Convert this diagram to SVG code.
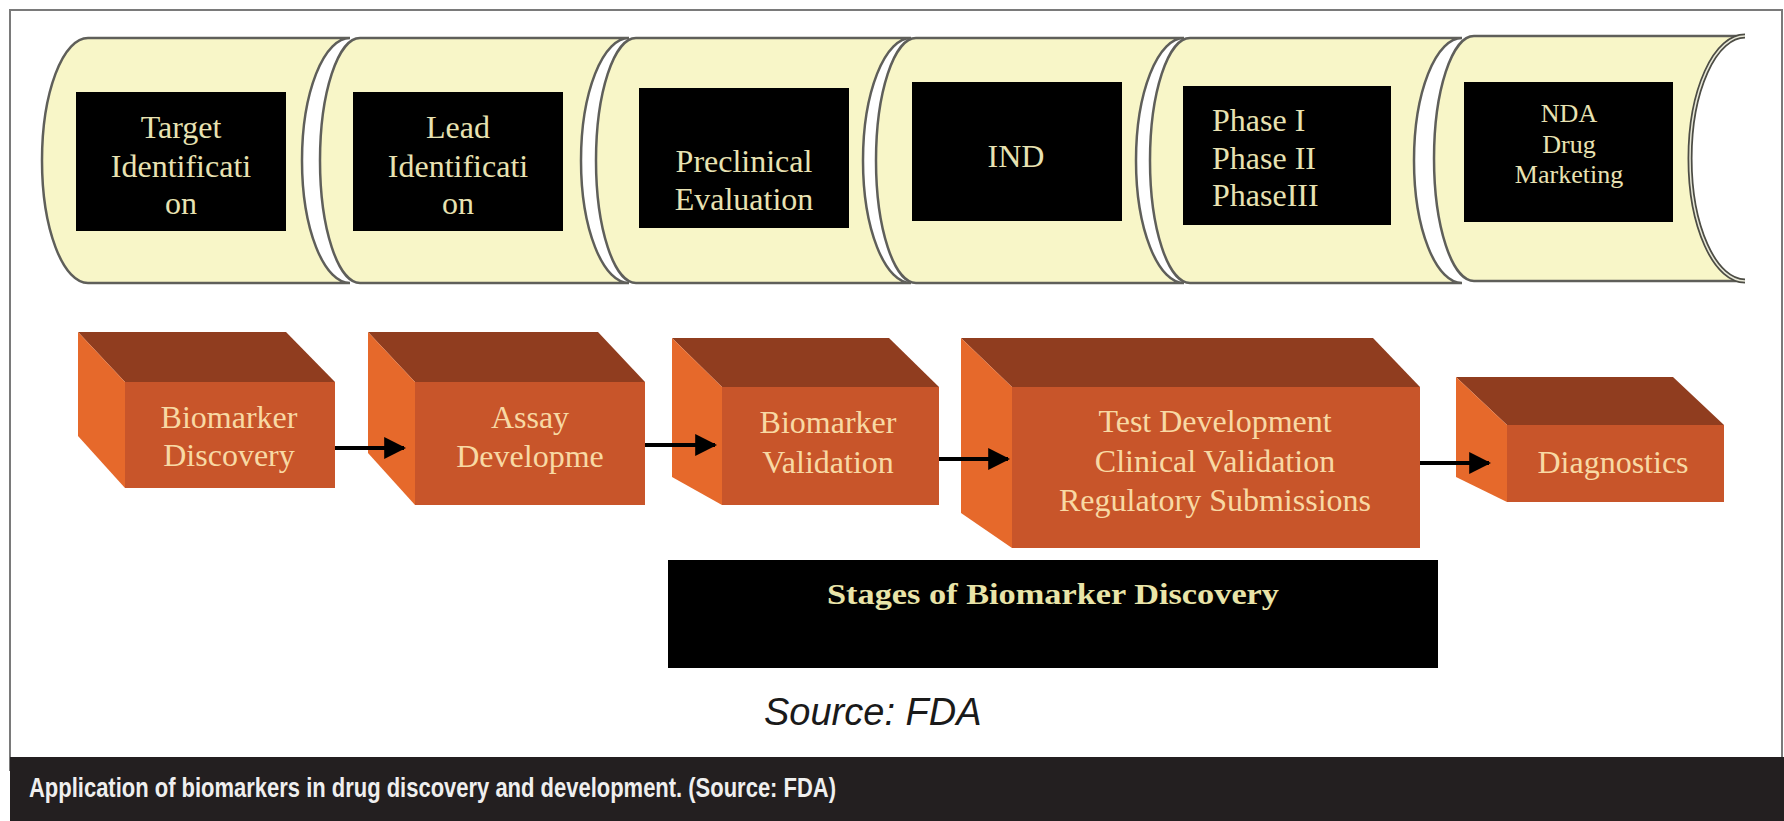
<svg xmlns="http://www.w3.org/2000/svg" width="1784" height="821" viewBox="0 0 1784 821">
<style>
.scroll{fill:#f8f6c8;stroke:#5f5f5a;stroke-width:2.5}
.blk{fill:#000}
.tt{font-family:"Liberation Serif",serif;font-size:32px;fill:#e8e2b2;text-anchor:middle}
.tl{font-family:"Liberation Serif",serif;font-size:32px;fill:#e8e2b2;text-anchor:start}
.ts{font-family:"Liberation Serif",serif;font-size:26px;fill:#e8e2b2;text-anchor:middle}
.bt{font-family:"Liberation Serif",serif;font-size:32px;fill:#f8d9a4;text-anchor:middle}
.top{fill:#903d1f}
.front{fill:#c8552a}
.side{fill:#e6692b}
.conn line{stroke:#000;stroke-width:4}
</style>
<defs>
<marker id="ah" viewBox="0 0 10 10" refX="9" refY="5" markerWidth="5.5" markerHeight="6" markerUnits="strokeWidth" orient="auto">
<path d="M0,0 L10,5 L0,10 Z" fill="#000"/>
</marker>
</defs>
<rect x="0" y="0" width="1784" height="821" fill="#fff"/>
<rect x="10" y="10" width="1772" height="760" fill="#fff" stroke="#7a7a7a" stroke-width="2"/>
<rect x="10" y="757" width="1774" height="64" fill="#231f20"/>
<text x="29" y="797" font-family="'Liberation Sans',Arial,sans-serif" font-size="28" font-weight="bold" fill="#efefef" textLength="807" lengthAdjust="spacingAndGlyphs">Application of biomarkers in drug discovery and development. (Source: FDA)</text>

<g id="n1">
<path class="scroll" d="M88,38 L350,38 A48 122.5 0 0 0 350,283 L88,283 A46 122.5 0 0 1 88,38 Z"/>
<rect class="blk" x="76" y="92" width="210" height="139"/>
<text class="tt" x="181" y="138">Target</text>
<text class="tt" x="181" y="177">Identificati</text>
<text class="tt" x="181" y="214">on</text>
</g>
<g id="n2">
<path class="scroll" d="M360,38 L629,38 A48 122.5 0 0 0 629,283 L360,283 A40 122.5 0 0 1 360,38 Z"/>
<rect class="blk" x="353" y="92" width="210" height="139"/>
<text class="tt" x="458" y="138">Lead</text>
<text class="tt" x="458" y="177">Identificati</text>
<text class="tt" x="458" y="214">on</text>
</g>
<g id="n3">
<path class="scroll" d="M636,38 L911,38 A48 122.5 0 0 0 911,283 L636,283 A40 122.5 0 0 1 636,38 Z"/>
<rect class="blk" x="639" y="88" width="210" height="140"/>
<text class="tt" x="744" y="172">Preclinical</text>
<text class="tt" x="744" y="210">Evaluation</text>
</g>
<g id="n4">
<path class="scroll" d="M916,38 L1184,38 A48 122.5 0 0 0 1184,283 L916,283 A40 122.5 0 0 1 916,38 Z"/>
<rect class="blk" x="912" y="82" width="210" height="139"/>
<text class="tt" x="1016" y="167">IND</text>
</g>
<g id="n5">
<path class="scroll" d="M1190,38 L1462,38 A48 122.5 0 0 0 1462,283 L1190,283 A40 122.5 0 0 1 1190,38 Z"/>
<rect class="blk" x="1183" y="86" width="208" height="139"/>
<text class="tl" x="1212" y="131">Phase I</text>
<text class="tl" x="1212" y="169">Phase II</text>
<text class="tl" x="1212" y="206">PhaseIII</text>
</g>
<g id="n6">
<path class="scroll" d="M1474,36 L1745,36 A55 122.5 0 0 0 1745,281 L1474,281 A40 122.5 0 0 1 1474,36 Z"/>
<path d="M1745,36 A55 122.5 0 0 0 1745,281" fill="none" stroke="#4d4d45" stroke-width="5"/>
<path d="M1745,36 A55 122.5 0 0 0 1745,281" fill="none" stroke="#e8e8d8" stroke-width="1.5"/>
<rect class="blk" x="1464" y="82" width="209" height="140"/>
<text class="ts" x="1569" y="122">NDA</text>
<text class="ts" x="1569" y="153">Drug</text>
<text class="ts" x="1569" y="183">Marketing</text>
</g>

<g id="b1">
<polygon class="top" points="78,332 286,332 335,382 125,382"/>
<polygon class="side" points="78,332 125,382 125,488 78,436"/>
<rect class="front" x="125" y="382" width="210" height="106"/>
<text class="bt" x="229" y="428">Biomarker</text>
<text class="bt" x="229" y="466">Discovery</text>
</g>
<g id="b2">
<polygon class="top" points="368,332 598,332 645,382 415,382"/>
<polygon class="side" points="368,332 415,382 415,505 368,453"/>
<rect class="front" x="415" y="382" width="230" height="123"/>
<text class="bt" x="530" y="428">Assay</text>
<text class="bt" x="530" y="467">Developme</text>
</g>
<g id="b3">
<polygon class="top" points="672,338 889,338 939,387 722,387"/>
<polygon class="side" points="672,338 722,387 722,505 672,477"/>
<rect class="front" x="722" y="387" width="217" height="118"/>
<text class="bt" x="828" y="433">Biomarker</text>
<text class="bt" x="828" y="473">Validation</text>
</g>
<g id="b4">
<polygon class="top" points="961,338 1373,338 1420,387 1012,387"/>
<polygon class="side" points="961,338 1012,387 1012,548 961,513"/>
<rect class="front" x="1012" y="387" width="408" height="161"/>
<text class="bt" x="1215" y="432">Test Development</text>
<text class="bt" x="1215" y="472">Clinical Validation</text>
<text class="bt" x="1215" y="511">Regulatory Submissions</text>
</g>
<g id="b5">
<polygon class="top" points="1456,377 1673,377 1724,425 1507,425"/>
<polygon class="side" points="1456,377 1507,425 1507,502 1456,477"/>
<rect class="front" x="1507" y="425" width="217" height="77"/>
<text class="bt" x="1613" y="473">Diagnostics</text>
</g>

<g id="connectors" class="conn">
<line x1="335" y1="448" x2="404" y2="448" marker-end="url(#ah)"/>
<line x1="645" y1="445" x2="715" y2="445" marker-end="url(#ah)"/>
<line x1="939" y1="459" x2="1008" y2="459" marker-end="url(#ah)"/>
<line x1="1420" y1="463" x2="1489" y2="463" marker-end="url(#ah)"/>
</g>

<g id="banner">
<rect x="668" y="560" width="770" height="108" fill="#000"/>
<text x="1053" y="604" font-family="'Liberation Serif',serif" font-size="30" font-weight="bold" fill="#e9e4a8" text-anchor="middle" textLength="452" lengthAdjust="spacingAndGlyphs">Stages of Biomarker Discovery</text>
</g>
<text id="source" x="764" y="725" font-family="'Liberation Sans',Arial,sans-serif" font-size="38" font-style="italic" fill="#1a1a1a">Source: FDA</text>
</svg>
